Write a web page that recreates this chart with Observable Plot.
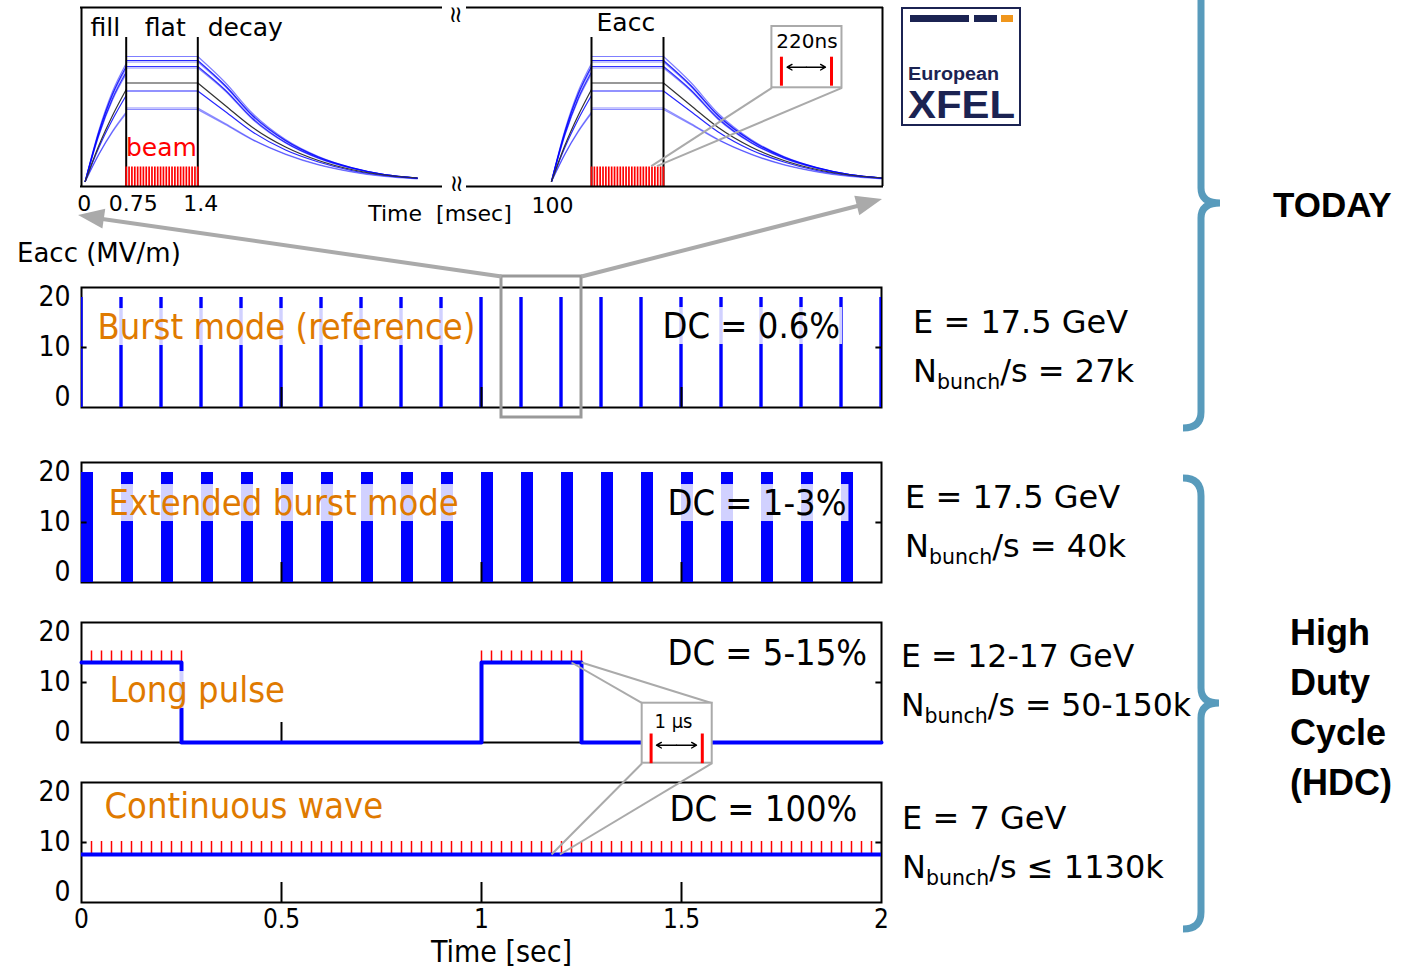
<!DOCTYPE html>
<html>
<head>
<meta charset="utf-8">
<script src="https://cdn.jsdelivr.net/npm/d3@7"></script>
<script src="https://cdn.jsdelivr.net/npm/@observablehq/plot@0.6"></script>
<style>
  html, body { margin: 0; padding: 0; background: #fff; }
  #fig { position: relative; width: 1404px; height: 970px; overflow: hidden; background: #fff; color: #000; font-family: "DejaVu Sans", sans-serif; }
  #fig > * { position: absolute; }
  .lbl { white-space: pre; line-height: 1; }
  .rt { font-size: 32px; }
  .rt sub { font-size: 20.5px; vertical-align: -7px; line-height: 0; }
  .bold { font-family: "Liberation Sans", Arial, sans-serif; font-weight: bold; }
</style>
</head>
<body>
<div id="fig"></div>
<script>
// ================= DATA =================
const timeTicks = [0, 0.5, 1, 1.5, 2];
const timeTickLabels = ["0", "0.5", "1", "1.5", "2"];
const innerTicks = [0.5, 1, 1.5];
const eaccTicks = [0, 10, 20];

const modes = ["Burst mode (reference)", "Extended burst mode", "Long pulse", "Continuous wave"];
const dutyCycles = ["DC = 0.6%", "DC = 1-3%", "DC = 5-15%", "DC = 100%"];
const energies = ["E = 17.5 GeV", "E = 17.5 GeV", "E = 12-17 GeV", "E = 7 GeV"];
const bunchRates = ["/s = 27k", "/s = 40k", "/s = 50-150k", "/s ≤ 1130k"];

// burst mode: 10 Hz RF trains
const burstTrainTimes = [0, 0.1, 0.2, 0.3, 0.4, 0.5, 0.6, 0.7, 0.8, 0.9, 1.0, 1.1, 1.2, 1.3, 1.4, 1.5, 1.6, 1.7, 1.8, 1.9, 2.0];
const burstTrainEacc = 20;
const burstTrainLength = 0.0085;
// extended burst mode
const extTrainTimes = [0, 0.1, 0.2, 0.3, 0.4, 0.5, 0.6, 0.7, 0.8, 0.9, 1.0, 1.1, 1.2, 1.3, 1.4, 1.5, 1.6, 1.7, 1.8, 1.9];
const extTrainEacc = 20;
const extTrainLength = 0.03;
// long pulse
const longPulseTime = [0, 0.25, 0.25, 1.0, 1.0, 1.25, 1.25, 2.0];
const longPulseEacc = [14, 14, -2, -2, 14, 14, -2, -2];
const longBunchWindows = [[0.025, 0.25], [1.0, 1.25]];
const longBunchSpacing = 0.025;
const longBunchTop = 16.3;
// continuous wave
const cwEacc = 7.6;
const cwBunchWindow = [0.025, 1.975];
const cwBunchSpacing = 0.025;
const cwBunchTop = 10.2;

// inset: single RF pulse (fill / flat / decay), several cavities
const insetFlatLevel = [26.0, 25.2, 24.9, 24.0, 23.7, 19.1, 15.7, 15.4, 20.7];
const insetFillTime = [0, 0.25, 0.5, 0.75];
const insetFill = [
  [1.0, 11.2, 19.0, 24.6],
  [1.0, 10.9, 18.5, 24.0],
  [1.0, 10.7, 18.2, 23.6],
  [1.0, 10.4, 17.6, 22.9],
  [1.0, 10.2, 17.3, 22.5],
  [1.0, 7.8, 13.4, 18.2],
  [1.0, 6.5, 11.1, 14.9],
  [1.0, 6.4, 10.9, 14.6],
  [1.0, 8.2, 14.2, 19.4]
];
const insetFlatTime = [0.75, 1.4];
const insetDecayTime = [1.4, 1.65, 1.9, 2.2, 2.5, 2.8, 3.1, 3.4];
const insetDecay = [
  [26.0, 20.8, 14.6, 9.4, 6.0, 3.8, 2.4, 1.7],
  [25.2, 20.2, 14.2, 9.2, 5.9, 3.8, 2.4, 1.7],
  [24.9, 20.0, 14.0, 9.1, 5.8, 3.7, 2.4, 1.7],
  [24.0, 19.3, 13.6, 8.8, 5.7, 3.7, 2.4, 1.7],
  [23.7, 19.1, 13.4, 8.7, 5.6, 3.6, 2.3, 1.7],
  [19.1, 15.0, 10.9, 7.3, 4.9, 3.2, 2.2, 1.6],
  [15.7, 12.6, 9.4, 6.5, 4.4, 3.0, 2.1, 1.6],
  [15.4, 12.4, 9.3, 6.4, 4.3, 2.9, 2.0, 1.5],
  [20.7, 16.2, 11.8, 7.9, 5.2, 3.4, 2.3, 1.7]
];
const insetCurveColor = ["#0000ff", "#0000ff", "#0000ff", "#0000ff", "#0000ff", "#0000ff", "#0000ff", "#0000ff", "#333333"];
const insetCurveOpacity = [0.5, 0.85, 0.45, 0.8, 0.45, 0.85, 0.45, 0.45, 1];
const insetPulseStarts = [0, 100];
const insetBeamWindow = [0.75, 1.4];
const insetBeamStripes = 25;
const insetBeamTop = 3.9;
const insetTickValues = [0, 0.75, 1.4, 100];
const insetTickLabels = ["0", "0.75", "1.4", "100"];
const insetPhaseLabels = ["fill", "flat", "decay"];

// ================= LAYOUT / STYLE =================
const COND = '"DejaVu Sans Condensed", "Liberation Sans Narrow", "DejaVu Sans", sans-serif';
const SANS = '"DejaVu Sans", sans-serif';
const ORANGE = "#df7a00";
const BLUE = "#0000ff";
const GREY = "#aaaaaa";
const BRACE = "#589bbc";
const LABEL_SIZE = 36;
const fig = document.getElementById("fig");

const bunchTimes = ([a, b], step) => {
  const n = Math.round((b - a) / step);
  return d3.range(0, n + 1).map(k => a + k * step);
};

const modeLabelPos = [[0.04, 14], [0.0675, 13.8], [0.07, 8.4], [0.0575, 17.2]];
const dcLabelPos = [[1.4525, 14.2], [1.465, 13.8], [1.465, 15.8], [1.47, 16.6]];
const frameTops = [287, 462, 622, 782];

function frameMarks() {
  return [Plot.frame({stroke: "black", strokeWidth: 2})];
}
function tickMarks() {
  return [
    Plot.ruleX(innerTicks, {y1: -2, y2: 2, stroke: "black", strokeWidth: 2}),
    Plot.ruleY([10], {x1: 0, x2: 0.014, stroke: "black", strokeWidth: 2}),
    Plot.ruleY([10], {x1: 1.986, x2: 2, stroke: "black", strokeWidth: 2}),
    Plot.text(eaccTicks, {x: 0, y: d => d, text: d => String(d), textAnchor: "end", dx: -11, fontSize: 28, fontFamily: COND, fill: "black"})
  ];
}
function labelMarks(i) {
  return [
    Plot.text([modes[i]], {x: modeLabelPos[i][0], y: modeLabelPos[i][1], textAnchor: "start", fill: ORANGE, fontSize: LABEL_SIZE, fontFamily: COND}),
    Plot.text([dutyCycles[i]], {x: dcLabelPos[i][0], y: dcLabelPos[i][1], textAnchor: "start", fill: "black", fontSize: LABEL_SIZE, fontFamily: COND})
  ];
}

function addTextBoxes(svg) {
  svg.querySelectorAll("text").forEach(t => {
    if (getComputedStyle(t).fontSize !== LABEL_SIZE + "px") return;
    const b = t.getBBox();
    const r = document.createElementNS("http://www.w3.org/2000/svg", "rect");
    r.setAttribute("x", b.x - 2);
    r.setAttribute("y", b.y + 2);
    r.setAttribute("width", b.width + 4);
    r.setAttribute("height", b.height - 4);
    r.setAttribute("fill", "white");
    r.setAttribute("fill-opacity", "0.82");
    if (t.getAttribute("transform")) r.setAttribute("transform", t.getAttribute("transform"));
    t.parentNode.insertBefore(r, t);
  });
}

function makePanel(frameTop, marks, marginBottom = 16) {
  const mt = 16;
  const plot = Plot.plot({
    width: 900, height: mt + 120 + marginBottom,
    marginTop: mt, marginBottom, marginLeft: 81, marginRight: 19,
    x: {domain: [0, 2], axis: null},
    y: {domain: [-2, 22], axis: null},
    style: {background: "transparent", overflow: "visible"},
    marks
  });
  plot.style.left = "0px";
  plot.style.top = (frameTop - mt) + "px";
  fig.appendChild(plot);
  addTextBoxes(plot);
  return {plot, left: 0, top: frameTop - mt};
}
const at = (p, t, v) => [p.left + p.plot.scale("x").apply(t), p.top + p.plot.scale("y").apply(v)];

// ================= INSET (single RF pulse) =================
const insetKnots = [-0.07, 0, 0.75, 1.4, 3.4, 4.3, 98.5, 100, 100.75, 101.4, 103.4];
const insetKnotPx = [81, 84.7, 125.7, 197.3, 416.7, 441, 467, 551, 591, 663, 882];
const insetTop = 35.8;
const curveMarks = [];
insetPulseStarts.forEach(p => {
  insetFlatLevel.forEach((L, i) => {
    const st = {x: d => d[0], y: d => d[1], stroke: insetCurveColor[i], strokeOpacity: insetCurveOpacity[i], strokeWidth: 1.2};
    curveMarks.push(Plot.line(insetFillTime.map((t, k) => [p + t, insetFill[i][k]]), {...st, curve: "monotone-x"}));
    curveMarks.push(Plot.line(insetFlatTime.map(t => [p + t, L]), st));
    curveMarks.push(Plot.line(insetDecayTime.map((t, k) => [p + t, insetDecay[i][k]]), {...st, curve: "monotone-x"}));
  });
});
const beamStripes = insetPulseStarts.flatMap(p =>
  d3.range(0, insetBeamStripes + 1).map(k => p + insetBeamWindow[0] + k * (insetBeamWindow[1] - insetBeamWindow[0]) / insetBeamStripes));
const nsBox = {x1: 102.39, x2: 103.03, y1: 19.74, y2: 32};
const nsBars = [102.477, 102.934];
const nsLinks = [[102.39, 19.74, 101.29, 4.06], [103.03, 19.74, 101.34, 4.06]];
const insetTickDx = [-1, 7, 3, 1];
const insetPhasePos = [[0.37, "middle"], [1.105, "middle"], [1.49, "start"]];

const inset = Plot.plot({
  width: 900, height: 240, margin: 0,
  x: {type: "linear", domain: insetKnots, range: insetKnotPx, axis: null},
  y: {domain: [0, insetTop], range: [186, 7], axis: null},
  style: {background: "transparent", overflow: "visible"},
  marks: [
    ...curveMarks,
    Plot.ruleX([0.75, 1.4, 100.75, 101.4], {y1: 0, y2: 29.8, stroke: "black", strokeWidth: 2}),
    Plot.ruleX(beamStripes, {y1: 0, y2: insetBeamTop, stroke: "red", strokeWidth: 1.7}),
    Plot.ruleY([0, insetTop], {x1: -0.07, x2: 4.3, stroke: "black", strokeWidth: 2, strokeLinecap: "square"}),
    Plot.ruleY([0, insetTop], {x1: 98.5, x2: 103.4, stroke: "black", strokeWidth: 2, strokeLinecap: "square"}),
    Plot.ruleX([-0.07, 103.4], {y1: 0, y2: insetTop, stroke: "black", strokeWidth: 2}),
    ...insetTickLabels.map((lab, i) => Plot.text([lab], {x: insetTickValues[i], y: i === 3 ? -3.9 : -3.5, dx: insetTickDx[i], fontSize: 22, fontFamily: SANS, fill: "black"})),
    ...insetPhaseLabels.map((lab, i) => Plot.text([lab], {x: insetPhasePos[i][0], y: 31.8, textAnchor: insetPhasePos[i][1], fontSize: 25, fontFamily: SANS, fill: "black"})),
    Plot.text(["Eacc"], {x: 101.06, y: 32.8, fontSize: 25, fontFamily: SANS, fill: "black"}),
    Plot.text(["beam"], {x: 1.07, y: 7.8, fontSize: 25, fontFamily: SANS, fill: "red"}),
    Plot.link(nsLinks, {x1: d => d[0], y1: d => d[1], x2: d => d[2], y2: d => d[3], stroke: GREY, strokeWidth: 2}),
    Plot.rect([nsBox], {x1: "x1", x2: "x2", y1: "y1", y2: "y2", fill: "white", stroke: GREY, strokeWidth: 2}),
    Plot.ruleX(nsBars, {y1: 20.06, y2: 25.86, stroke: "red", strokeWidth: 3}),
    Plot.arrow([[102.705, 102.529], [102.705, 102.879]], {x1: d => d[0], x2: d => d[1], y1: 23.86, y2: 23.86, stroke: "black", strokeWidth: 1.4, headLength: 6, headAngle: 60}),
    Plot.text(["220ns"], {x: 102.71, y: 29, fontSize: 20, fontFamily: SANS, fill: "black"})
  ]
});
inset.style.left = "0px"; inset.style.top = "0px";
fig.appendChild(inset);
const insetP = {plot: inset, left: 0, top: 0};

// ================= MAIN PANELS =================
const zoomBox = {x1: 1.05, x2: 1.25, y1: -4, y2: 24.2};
const p1 = makePanel(frameTops[0], [
  ...frameMarks(),
  Plot.rect(burstTrainTimes, {x1: d => d - burstTrainLength / 2, x2: d => d + burstTrainLength / 2, y1: -2, y2: burstTrainEacc, fill: BLUE, clip: true}),
  ...tickMarks(),
  ...labelMarks(0),
  Plot.rect([zoomBox], {x1: "x1", x2: "x2", y1: "y1", y2: "y2", fill: "none", stroke: "#999", strokeWidth: 3})
]);

const p2 = makePanel(frameTops[1], [
  ...frameMarks(),
  Plot.rect(extTrainTimes, {x1: d => d, x2: d => d + extTrainLength, y1: -2, y2: extTrainEacc, fill: BLUE, clip: true}),
  ...tickMarks(),
  ...labelMarks(1)
]);

const longRows = longPulseTime.map((t, i) => ({t, e: longPulseEacc[i]}));
const longBunches = longBunchWindows.flatMap(w => bunchTimes(w, longBunchSpacing));
const p3 = makePanel(frameTops[2], [
  ...frameMarks(),
  ...tickMarks(),
  Plot.ruleX(longBunches, {y1: 14, y2: longBunchTop, stroke: "red", strokeWidth: 1.5}),
  Plot.line(longRows, {x: "t", y: "e", stroke: BLUE, strokeWidth: 4}),
  ...labelMarks(2)
]);

const cwBunches = bunchTimes(cwBunchWindow, cwBunchSpacing);
const p4 = makePanel(frameTops[3], [
  ...frameMarks(),
  ...tickMarks(),
  Plot.ruleX(cwBunches, {y1: cwEacc, y2: cwBunchTop, stroke: "red", strokeWidth: 1.5}),
  Plot.ruleY([cwEacc], {stroke: BLUE, strokeWidth: 4}),
  ...labelMarks(3),
  Plot.text(timeTickLabels, {x: (d, i) => timeTicks[i], y: -2, dy: 17, text: d => d, fontSize: 26, fontFamily: COND, fill: "black"}),
  Plot.text(["Time [sec]"], {x: 1.05, y: -2, dy: 50, fontSize: 30, fontFamily: COND, fill: "black"})
], 66);

// ================= OVERLAY ANNOTATIONS =================
const zTL = at(p1, zoomBox.x1, zoomBox.y2), zTR = at(p1, zoomBox.x2, zoomBox.y2);
const leftTip = at(insetP, -0.125, -5.8), rightTip = at(insetP, 103.4, -2.6);
function headBase(tip, from, len) {
  const dx = tip[0] - from[0], dy = tip[1] - from[1], L = Math.hypot(dx, dy);
  return [tip[0] - dx / L * len, tip[1] - dy / L * len];
}
function headPath(tip, from, len, hw) {
  const dx = tip[0] - from[0], dy = tip[1] - from[1], L = Math.hypot(dx, dy);
  const ux = dx / L, uy = dy / L;
  const bx = tip[0] - ux * len, by = tip[1] - uy * len;
  return `M${tip[0]},${tip[1]}L${bx - uy * hw},${by + ux * hw}L${bx + uy * hw},${by - ux * hw}Z`;
}
const bigArrows = [{a: zTL, b: headBase(leftTip, zTL, 24), tip: leftTip, from: zTL}, {a: zTR, b: headBase(rightTip, zTR, 24), tip: rightTip, from: zTR}];

const muBoxA = at(p3, 1.4017, 5.86), muBoxB = at(p3, 1.5768, -6.14);
const muLines = [
  [muBoxA, at(p3, 1.225, 14)],
  [[muBoxB[0], muBoxA[1]], at(p3, 1.25, 14)],
  [[muBoxA[0], muBoxB[1]], at(p4, 1.175, cwEacc)],
  [muBoxB, at(p4, 1.196, cwEacc)]
];
const muBars = [1.424, 1.552].map(t => [at(p3, t, -0.2), at(p3, t, -6.14)]);
const muArrowL = at(p3, 1.4375, -2.54), muArrowR = at(p3, 1.5375, -2.54), muMid = at(p3, 1.4875, -2.54);
const muText = at(p3, 1.48, 2.26);

const bracePaths = [
  "M1201,-10 V188 Q1201,203 1220,203 Q1201,203 1201,218 V412 Q1201,428 1183,428",
  "M1183,478 Q1201,478 1201,496 V688 Q1201,703 1219,703 Q1201,703 1201,718 V912 Q1201,929 1183,929"
];

const overlay = Plot.plot({
  width: 1404, height: 970, margin: 0,
  x: {type: "identity", axis: null},
  y: {type: "identity", axis: null},
  style: {background: "transparent", overflow: "visible", pointerEvents: "none"},
  marks: [
    Plot.link(bigArrows, {x1: d => d.a[0], y1: d => d.a[1], x2: d => d.b[0], y2: d => d.b[1], stroke: GREY, strokeWidth: 4}),
    () => {
      const g = d3.create("svg:g");
      bigArrows.forEach(d => g.append("path").attr("d", headPath(d.tip, d.from, 26, 10)).attr("fill", GREY));
      return g.node();
    },
    Plot.link(muLines, {x1: d => d[0][0], y1: d => d[0][1], x2: d => d[1][0], y2: d => d[1][1], stroke: GREY, strokeWidth: 2}),
    Plot.rect([[muBoxA, muBoxB]], {x1: d => d[0][0], y1: d => d[0][1], x2: d => d[1][0], y2: d => d[1][1], fill: "white", stroke: GREY, strokeWidth: 2}),
    Plot.link(muBars, {x1: d => d[0][0], y1: d => d[0][1], x2: d => d[1][0], y2: d => d[1][1], stroke: "red", strokeWidth: 3}),
    Plot.arrow([[muMid, muArrowL], [muMid, muArrowR]], {x1: d => d[0][0], y1: d => d[0][1], x2: d => d[1][0], y2: d => d[1][1], stroke: "black", strokeWidth: 1.4, headLength: 6, headAngle: 60}),
    Plot.text(["1 µs"], {x: muText[0], y: muText[1], fontSize: 20, fontFamily: COND, fill: "black"}),
    () => {
      const g = d3.create("svg:g");
      bracePaths.forEach(d => g.append("path").attr("d", d).attr("fill", "none").attr("stroke", BRACE).attr("stroke-width", 7));
      return g.node();
    }
  ]
});
overlay.style.left = "0px"; overlay.style.top = "0px";
fig.appendChild(overlay);

// ================= HTML TEXT / LOGO =================
function addDiv(html, left, cy, cls, size, capCenter, extra = "") {
  const d = document.createElement("div");
  d.className = "lbl " + cls;
  d.innerHTML = html;
  d.style.cssText = `left:${left}px;top:${cy - size * capCenter}px;font-size:${size}px;${extra}`;
  fig.appendChild(d);
  return d;
}
const rtPos = [[913, 321], [905, 496], [901, 656], [902, 817]];
const rtSize = [32, 32, 31.5, 32];
energies.forEach((e, i) => {
  addDiv(e, rtPos[i][0], rtPos[i][1], "rt", rtSize[i], 0.481);
  addDiv(`N<sub>bunch</sub>${bunchRates[i]}`, rtPos[i][0], rtPos[i][1] + 49, "rt", rtSize[i], 0.481);
});
addDiv("Eacc (MV/m)", 17, 253, "", 26, 0.481);
addDiv("Time  [msec]", 440, 214, "", 22, 0.481, "transform:translateX(-50%);");
addDiv("≀≀", 454, 14, "", 23, 0.5, "transform:translateX(-50%);letter-spacing:-3px;");
addDiv("≀≀", 455, 183, "", 23, 0.5, "transform:translateX(-50%);letter-spacing:-3px;");
addDiv("TODAY", 1273, 204, "bold", 35, 0.4885);
["High", "Duty", "Cycle", "(HDC)"].forEach((w, i) => addDiv(w, 1290, 632.5 + 50 * i, "bold", 36, 0.4885));

const logo = d3.create("svg").attr("width", 1404).attr("height", 970).style("left", "0px").style("top", "0px");
logo.append("rect").attr("x", 902).attr("y", 8).attr("width", 118).attr("height", 117).attr("fill", "white").attr("stroke", "#1b2352").attr("stroke-width", 2);
[[910, 59, "#1b2352"], [974, 23, "#1b2352"], [1001, 12, "#f0961c"]].forEach(([x, w, c]) =>
  logo.append("rect").attr("x", x).attr("y", 15).attr("width", w).attr("height", 7).attr("fill", c));
logo.append("text").attr("x", 908).attr("y", 80).attr("font-family", "Liberation Sans, Arial, sans-serif").attr("font-weight", "bold")
  .attr("font-size", 18).attr("fill", "#1b2352").attr("textLength", 91).attr("lengthAdjust", "spacingAndGlyphs").text("European");
logo.append("text").attr("x", 908).attr("y", 118).attr("font-family", "Liberation Sans, Arial, sans-serif").attr("font-weight", "bold")
  .attr("font-size", 39).attr("fill", "#1b2352").attr("textLength", 107).attr("lengthAdjust", "spacingAndGlyphs").text("XFEL");
fig.appendChild(logo.node());
</script>
</body>
</html>
